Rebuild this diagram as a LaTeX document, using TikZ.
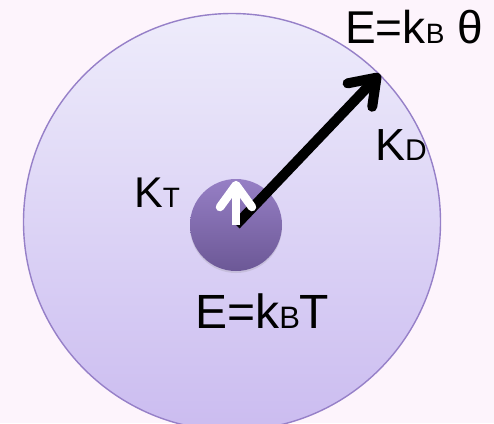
\documentclass[tikz,border=0pt]{standalone}
\usepackage{fontspec}
\setmainfont{Liberation Sans}
\usetikzlibrary{arrows.meta,positioning,shadows}
\definecolor{bgpink}{RGB}{253,244,252}
\definecolor{disktop}{RGB}{238,236,251}
\definecolor{diskbottom}{RGB}{203,188,240}
\definecolor{diskline}{RGB}{150,128,200}
\definecolor{coretop}{RGB}{150,127,197}
\definecolor{corebottom}{RGB}{108,88,150}
\newcommand{\smallsub}[2]{{\fontsize{#1}{#1}\selectfont #2}}
\tikzstyle{disk} = [draw=diskline, line width=1.4pt, circle, top color=disktop, bottom color=diskbottom, inner sep=0pt, minimum size=417pt]
\tikzstyle{core} = [circle, top color=coretop, bottom color=corebottom, inner sep=0pt, minimum size=92pt, drop shadow={shadow xshift=0pt, shadow yshift=-2pt, opacity=0.2}]
\tikzstyle{txt} = [inner sep=0pt, anchor=base west]
\tikzstyle{vector} = [line width=10pt, -{Straight Barb[round, length=24pt, width=34pt, line width=10pt]}]

\begin{document}
\begin{tikzpicture}[x=1pt, y=-1pt]
    % Background
    \fill [bgpink] (0,0) rectangle (494,423);
    \useasboundingbox (0,0) rectangle (494,423);
    % Circles
    \node [disk] (disk) at (232,222) {};
    \node [core] (core) at (236,225) {};
    % Labels
    \node [txt, font=\fontsize{46}{46}\selectfont] (ektheta) at (345,43) {E=k\smallsub{28}{B} θ};
    \node [txt, font=\fontsize{45}{45}\selectfont] (kd) at (375,160) {K\smallsub{30}{D}};
    \node [txt, font=\fontsize{43}{43}\selectfont] (kt) at (134,207) {K\smallsub{28}{T}};
    \node [txt, font=\fontsize{48}{48}\selectfont] (ekt) at (195,328) {E=k\smallsub{31}{B}T};
    % Arrows
    \draw [vector] (core.center) -- (disk.45);
    \draw [vector, white, line width=8.5pt, -{Straight Barb[round, length=22pt, width=32pt, line width=8.5pt]}] (core.center) -- ([yshift=-2pt]core.north);
\end{tikzpicture}
\end{document}
